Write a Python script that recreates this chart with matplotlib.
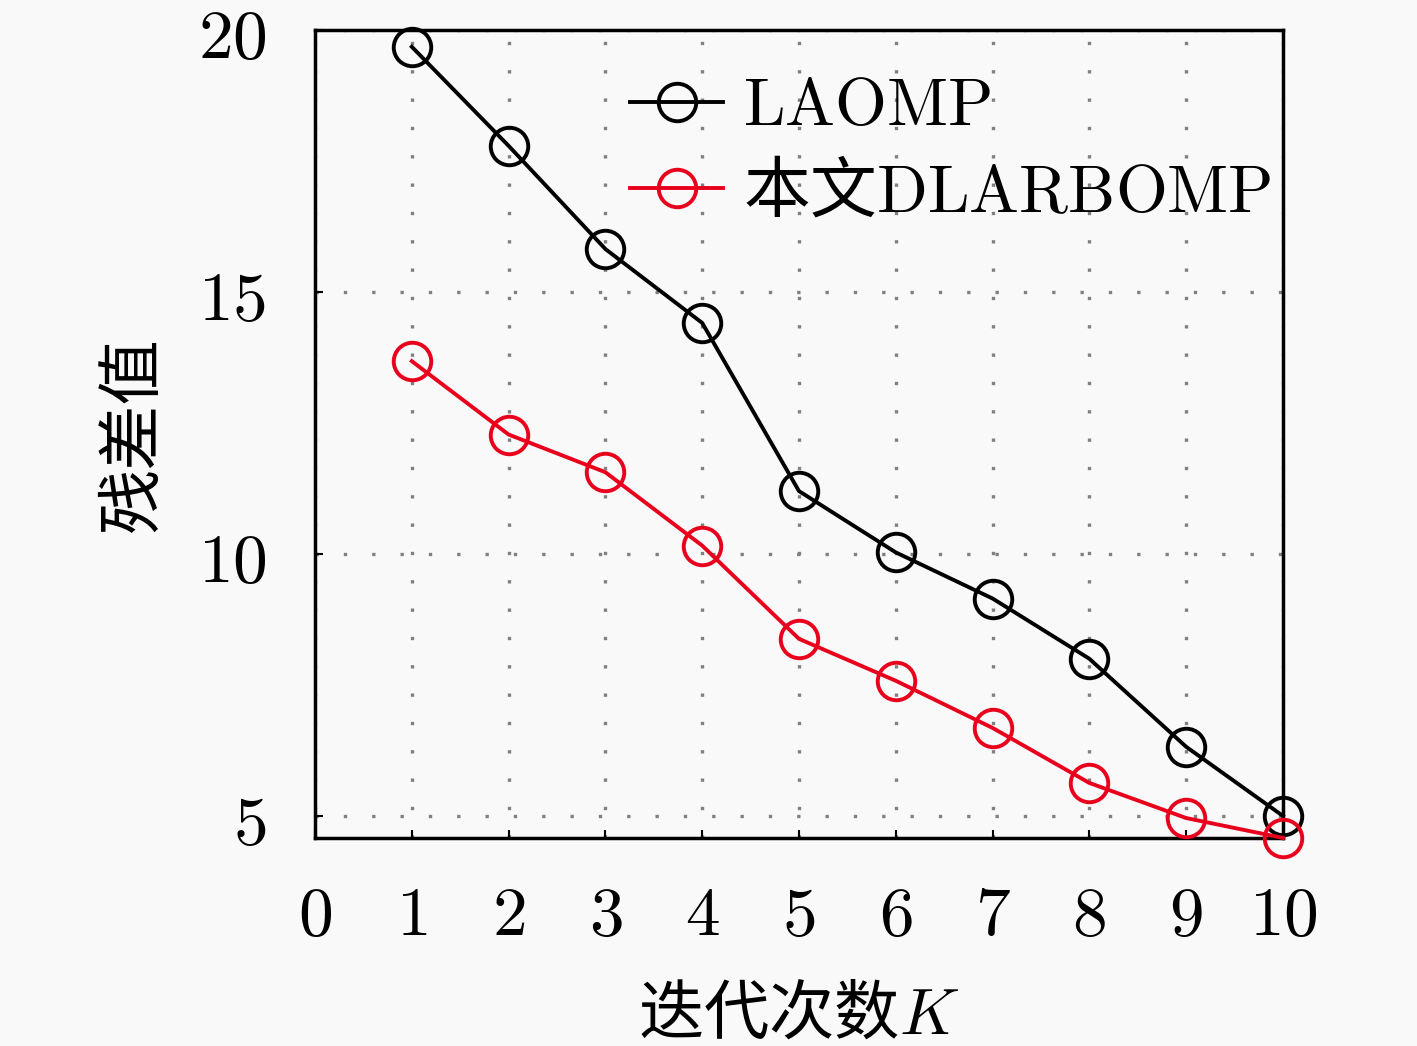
import matplotlib
matplotlib.use('Agg')
import matplotlib.pyplot as plt

plt.rcParams['font.family'] = ['Noto Sans CJK SC', 'DejaVu Serif']
plt.rcParams['mathtext.fontset'] = 'cm'
plt.rcParams['axes.unicode_minus'] = False

iters = [1, 2, 3, 4, 5, 6, 7, 8, 9, 10]
laomp = [19.68, 17.79, 15.82, 14.41, 11.20, 10.03, 9.15, 8.00, 6.32, 5.00]
dlarbomp = [13.68, 12.28, 11.56, 10.16, 8.38, 7.58, 6.68, 5.63, 4.96, 4.58]
xticks = list(range(0, 11))
yticks = [5, 10, 15, 20]

fig = plt.figure(figsize=(14.17, 10.46), dpi=100, facecolor='#f9f9f9')
ax = fig.add_axes([0.2223, 0.1989, 0.6831, 0.7724], facecolor='#f9f9f9')

ax.plot(iters, laomp, color='black', lw=2.8, marker='o', ms=27,
        mfc='none', mec='black', mew=2.8, label=r'$\mathrm{LAOMP}$', clip_on=False, zorder=3)
ax.plot(iters, dlarbomp, color='#e8001c', lw=2.8, marker='o', ms=27,
        mfc='none', mec='#e8001c', mew=2.8, label=r'本文$\mathrm{DLARBOMP}$', clip_on=False, zorder=3)

ax.set_xlim(0, 10)
ax.set_ylim(4.58, 20)
ax.set_xticks(xticks)
ax.set_yticks(yticks)
ax.set_xticklabels([rf'${t}$' for t in xticks])
ax.set_yticklabels([rf'${t}$' for t in yticks])
ax.tick_params(direction='in', length=6, width=1.5, labelsize=50)
ax.tick_params(axis='x', pad=30)
ax.tick_params(axis='y', pad=35)

ax.grid(True, color='#808080', linestyle=(0, (1, 7.5)), linewidth=2.4)
for s in ax.spines.values():
    s.set_linewidth(2.5)

ax.set_xlabel(r'迭代次数$K$', fontsize=47, labelpad=22)
ax.set_ylabel('残差值', fontsize=47, labelpad=22)

leg = ax.legend(loc='upper left', bbox_to_anchor=(0.298, 0.98), frameon=False,
                fontsize=48, handlelength=1.4, handletextpad=0.3, labelspacing=0.28,
                borderaxespad=0)

fig.savefig('out.png', dpi=100, facecolor=fig.get_facecolor())
